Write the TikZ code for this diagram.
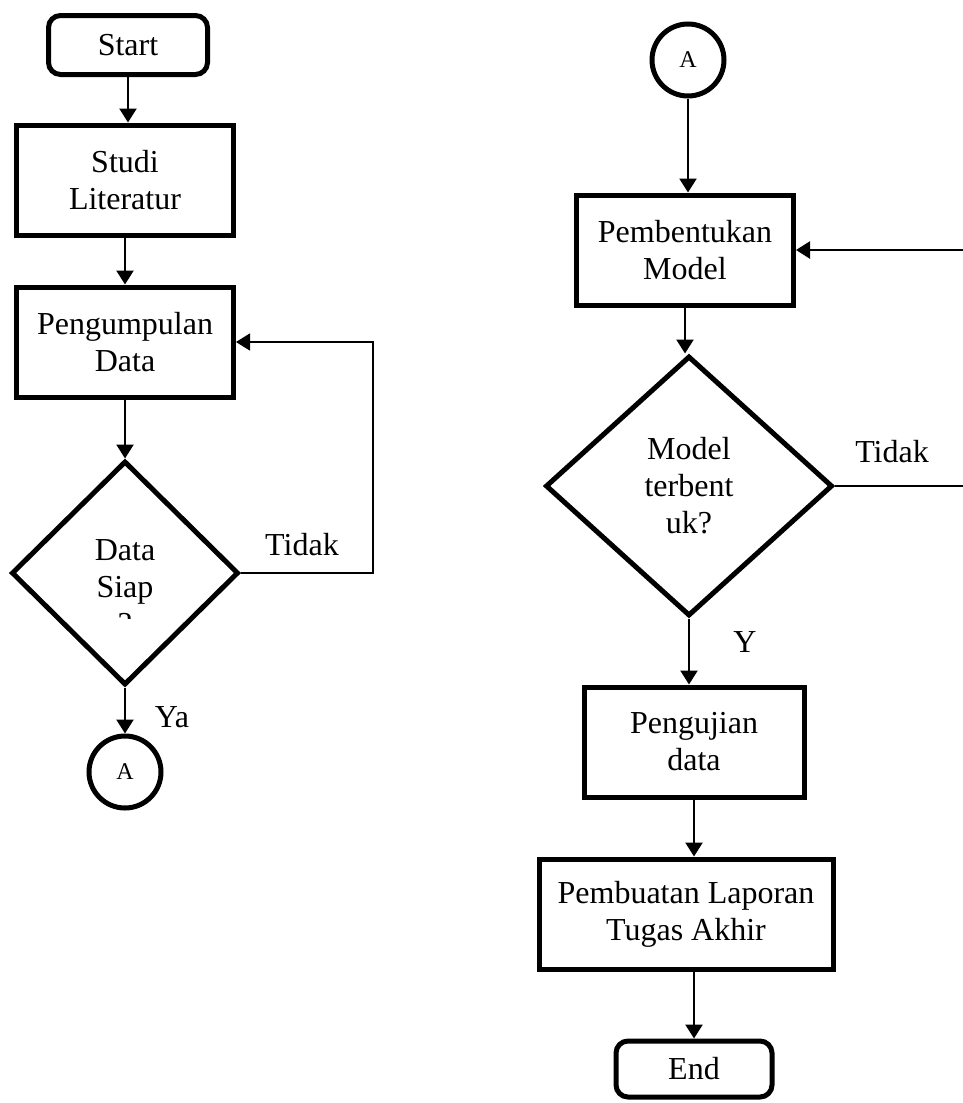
\documentclass[tikz,border=0pt]{standalone}
\usepackage{fontspec}
\setmainfont{Liberation Serif}
\usetikzlibrary{positioning,shapes.geometric,arrows.meta}
\begin{document}
\begin{tikzpicture}[x=0.5pt,y=-0.5pt]
                        \tikzstyle{every node}=[font=\fontsize{16}{18.5}\selectfont,align=center,inner sep=0]
                        \tikzstyle{box}=[draw,rectangle,line width=2.5pt,minimum width=108.5pt,minimum height=55pt]
                        \tikzstyle{term}=[box,rounded corners=6pt,minimum width=79.5pt,minimum height=29.5pt]
                        \tikzstyle{cond}=[draw,diamond,line width=2.5pt]
                        \tikzstyle{conn}=[draw,circle,line width=2.5pt,minimum size=36pt,font=\fontsize{12}{14}\selectfont]
                        \tikzstyle{note}=[draw=none]
                        \tikzstyle{flow}=[line width=1.2pt,-{Triangle[length=7pt,width=8.5pt]}]
                        \tikzstyle{back}=[line width=0.8pt,-{Triangle[length=7pt,width=8.5pt]}]
                        \useasboundingbox (0,0) rectangle (963,1103);
                        {
                            \node[term] (start) at (128,45) {Start};
                            \node[box] (studi) at (125,180) {Studi\\Literatur};
                            \node[box] (kumpul) at (125,342) {Pengumpulan\\Data};
                            \node[cond,minimum width=113.5pt,minimum height=112pt] (siap) at (125,573) {};
                            \begin{scope}
                                \clip (0,0) rectangle (400,618);
                                \node[note] (siaptxt) at (125,587) {Data\\Siap\\?};
                            \end{scope}
                            \node[conn] (konA) at (125,772) {A};
                            \node[note] (tidakA) at (302,545) {Tidak};
                            \node[note] (ya) at (172,717) {Ya};
                            \coordinate (loopA) at (373,0);

                            \node[conn] (konB) at (688,60) {A};
                            \node[box] (bentuk) at (685,250) {Pembentukan\\Model};
                            \node[cond,minimum width=143.5pt,minimum height=130pt] (model) at (689,486) {Model\\terbent\\uk?};
                            \node[box,minimum width=110pt] (uji) at (694,742) {Pengujian\\data};
                            \node[box,minimum width=147pt] (lapor) at (686,914) {Pembuatan Laporan\\Tugas Akhir};
                            \node[term,minimum width=78pt,minimum height=28pt] (end) at (694,1069) {End};
                            \node[note] (tidakB) at (892,452) {Tidak};
                            \node[note] (y) at (745,642) {Y};
                            \coordinate (loopB) at (968,0);

                            \path[flow]
                                (start.south) edge (start.south |- studi.north)
                                (studi.south) edge (studi.south |- kumpul.north)
                                (kumpul.south) edge (kumpul.south |- siap.north)
                                (siap.south) edge (siap.south |- konA.north)
                                (konB.south) edge (konB.south |- bentuk.north)
                                (bentuk.south) edge (bentuk.south |- model.north)
                                (model.south) edge (model.south |- uji.north)
                                (uji.south) edge (uji.south |- lapor.north)
                                (end.north |- lapor.south) edge (end.north);

                            \draw[back] (siap.east) -| (loopA |- kumpul.east) -- (kumpul.east);
                            \draw[flow] (model.east) -| (loopB |- bentuk.east) -- (bentuk.east);
                        }
                    \end{tikzpicture}
\end{document}
